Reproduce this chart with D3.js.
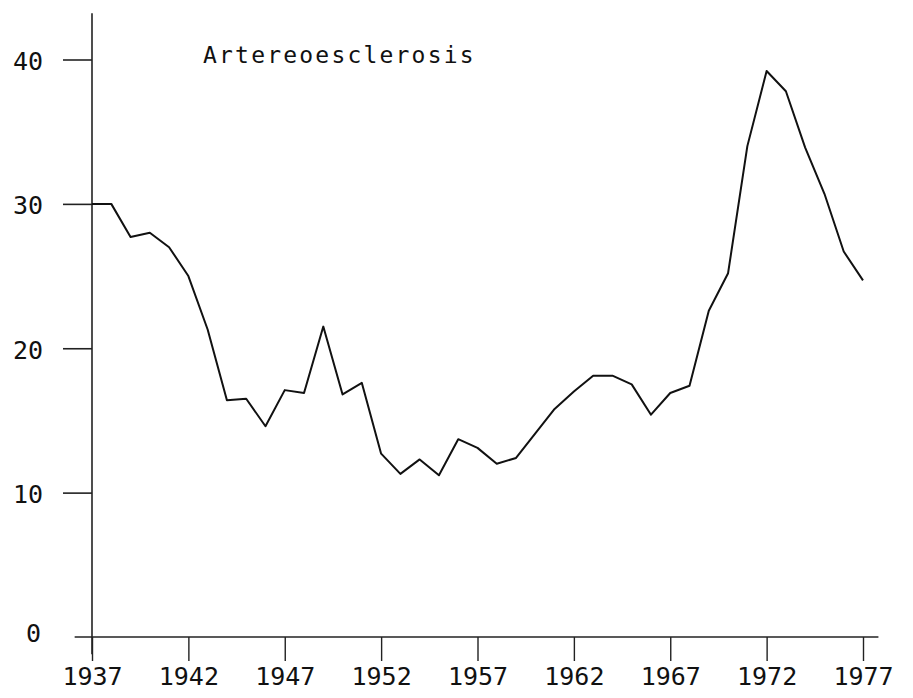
<!DOCTYPE html>
<html>
<head>
<meta charset="utf-8">
<script src="https://cdn.jsdelivr.net/npm/d3@7/dist/d3.min.js"></script>
<style>
  body { margin: 0; background: #fff; }
  svg text { font-family: "DejaVu Sans Mono", monospace; fill: #111; }
</style>
</head>
<body>
<div id="chart"></div>
<script>
// data (yearly rate)
var years = d3.range(1937, 1978);
var values = [
  30.0, 30.0, 27.7, 28.0, 27.0, 25.0, 21.3, 16.4, 16.5, 14.6,
  17.1, 16.9, 21.5, 16.8, 17.6, 12.7, 11.3, 12.3, 11.2, 13.7,
  13.1, 12.0, 12.4, 14.1, 15.8, 17.0, 18.1, 18.1, 17.5, 15.4,
  16.9, 17.4, 22.6, 25.2, 34.0, 39.2, 37.8, 33.9, 30.7, 26.7,
  24.7
];
var xTicks = [1937, 1942, 1947, 1952, 1957, 1962, 1967, 1972, 1977];
var yTicks = [0, 10, 20, 30, 40];
var title = "Artereoesclerosis";

var svgWidth = 913;
var svgHeight = 698;

var svg = d3.select("#chart")
  .append("svg")
  .attr("width", svgWidth)
  .attr("height", svgHeight);

var x = d3.scaleLinear().domain([1937, 1977]).range([92, 863]);
var y = d3.scaleLinear().domain([0, 40]).range([637, 59.5]);

// axis lines drawn by hand so they can run past the ticks like the original
svg.append("line")
  .attr("x1", x(1937)).attr("x2", x(1937))
  .attr("y1", y(43.2)).attr("y2", y(-1.2))
  .attr("stroke", "#222").attr("stroke-width", 1.6);

svg.append("line")
  .attr("x1", x(1936.1)).attr("x2", x(1977.8))
  .attr("y1", y(0)).attr("y2", y(0))
  .attr("stroke", "#222").attr("stroke-width", 1.6);

// left axis
var leftAxis = d3.axisLeft(y)
  .tickValues(yTicks.filter(d => d > 0))
  .tickSize(29)
  .tickPadding(20)
  .tickFormat(d3.format("d"));

var gy = svg.append("g")
  .attr("transform", `translate(${x(1937)},0)`)
  .call(leftAxis);
gy.select(".domain").remove();
gy.selectAll(".tick line").attr("stroke", "#222").attr("stroke-width", 1.6);
gy.selectAll(".tick text").style("font-size", "25px").attr("dy", "0.4em");

// zero label sits apart, left of the corner
svg.append("text")
  .attr("x", 41)
  .attr("y", y(0))
  .attr("dy", "0.2em")
  .attr("text-anchor", "end")
  .style("font-size", "25px")
  .text(yTicks[0]);

// bottom axis
var bottomAxis = d3.axisBottom(x)
  .tickValues(xTicks)
  .tickSize(24)
  .tickPadding(6)
  .tickFormat(d3.format("d"));

var gx = svg.append("g")
  .attr("transform", `translate(0,${y(0)})`)
  .call(bottomAxis);
gx.select(".domain").remove();
gx.selectAll(".tick line").attr("stroke", "#222").attr("stroke-width", 1.4);
gx.selectAll(".tick text").style("font-size", "25px");

// the series
var line = d3.line()
  .x((d, i) => x(years[i]))
  .y(d => y(d));

svg.append("path")
  .datum(values)
  .attr("fill", "none")
  .attr("stroke", "#111")
  .attr("stroke-width", 2)
  .attr("stroke-linejoin", "round")
  .attr("d", line);

// title inside the plot
svg.append("text")
  .attr("x", 203)
  .attr("y", 63)
  .style("font-size", "23px")
  .style("letter-spacing", "2.2px")
  .text(title);
</script>
</body>
</html>
